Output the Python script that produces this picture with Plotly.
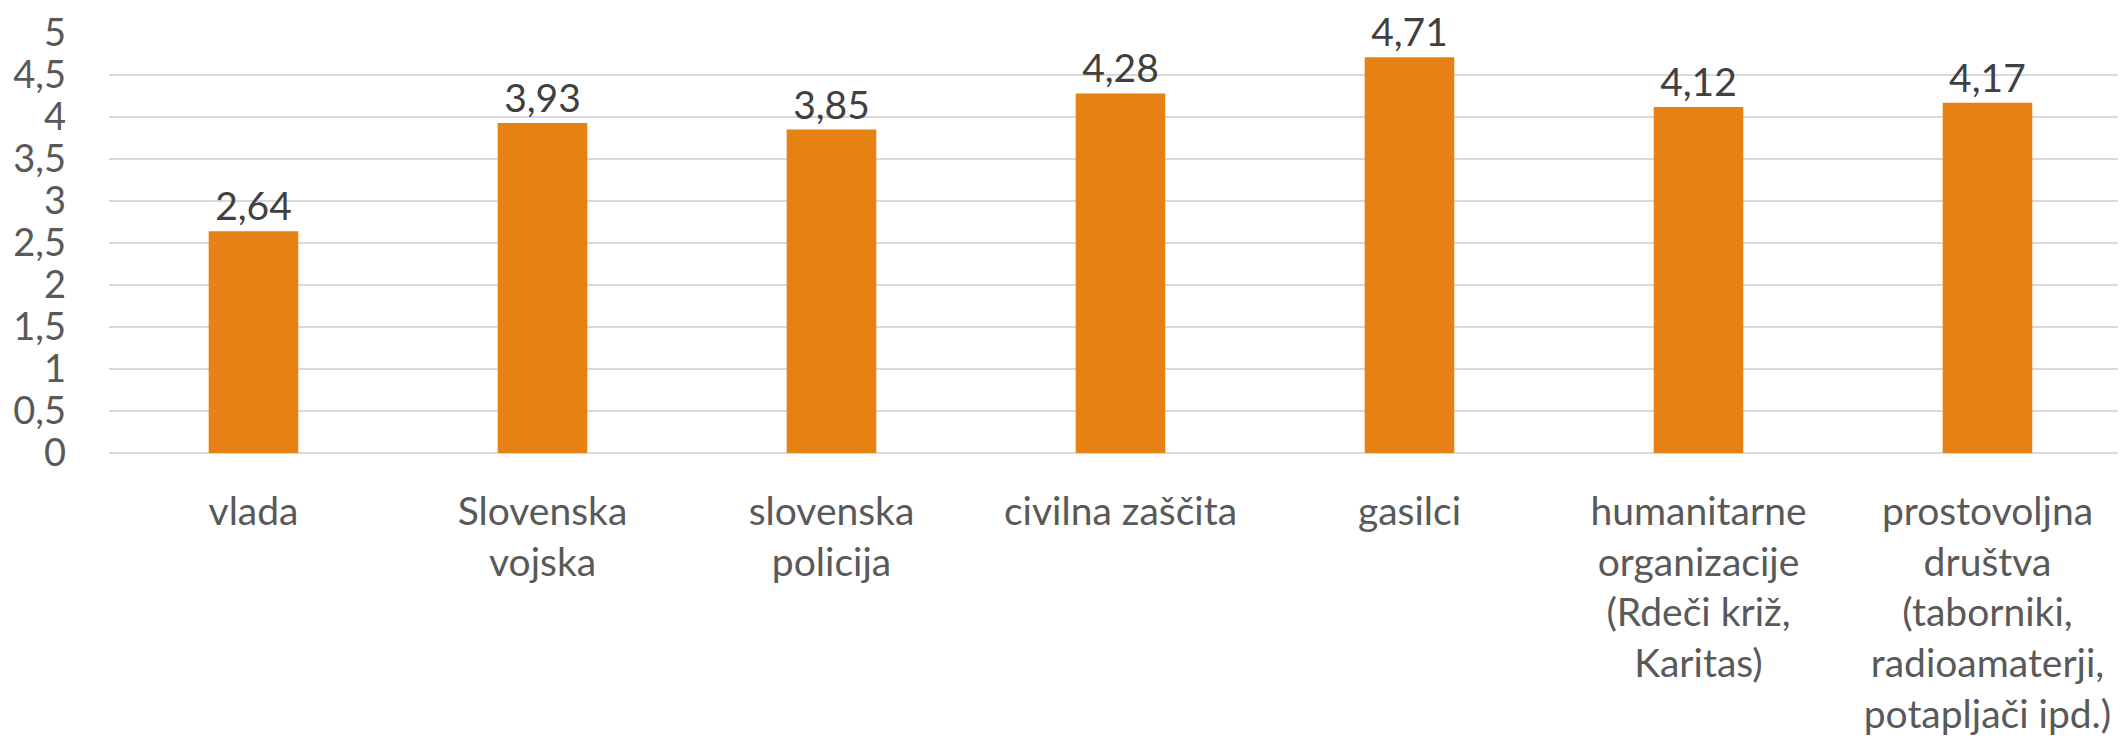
import plotly.graph_objects as go

categories = [
    "vlada",
    "Slovenska<br>vojska",
    "slovenska<br>policija",
    "civilna zaščita",
    "gasilci",
    "humanitarne<br>organizacije<br>(Rdeči križ,<br>Karitas)",
    "prostovoljna<br>društva<br>(taborniki,<br>radioamaterji,<br>potapljači ipd.)",
]
values = [2.64, 3.93, 3.85, 4.28, 4.71, 4.12, 4.17]
y_ticks = [0, 0.5, 1, 1.5, 2, 2.5, 3, 3.5, 4, 4.5, 5]

FONT = "Lato"

fig = go.Figure(
    go.Bar(
        x=list(range(len(categories))),
        y=values,
        marker=dict(color="#E58213", line=dict(width=0)),
        width=0.31,
        texttemplate="%{y:.2f}",
        textposition="outside",
        textfont=dict(family=FONT, size=39, color="#404040"),
        cliponaxis=False,
    )
)

# page body has an 8px default margin; compensate so plot area sits where the reference has it
fig.update_layout(
    width=2126,
    height=739,
    margin=dict(l=101, r=0, t=25, b=294),
    paper_bgcolor="white",
    plot_bgcolor="white",
    separators=", ",
    showlegend=False,
    font=dict(family=FONT, color="#595959"),
)

fig.update_xaxes(
    range=[-0.5, 6.507],
    tickmode="array",
    tickvals=list(range(len(categories))),
    ticktext=categories,
    tickfont=dict(family=FONT, size=39, color="#595959"),
    showgrid=False,
    zeroline=False,
    showline=False,
    ticks="",
    ticklabelstandoff=32,
)

fig.update_yaxes(
    range=[0, 5],
    tickmode="array",
    tickvals=y_ticks,
    tickfont=dict(family=FONT, size=38, color="#595959"),
    showgrid=True,
    gridcolor="#D9D9D9",
    gridwidth=1.5,
    zeroline=True,
    zerolinecolor="#D9D9D9",
    zerolinewidth=1.5,
    showline=False,
    ticks="",
    ticklabelstandoff=42,
)

fig.write_html("out.html")
